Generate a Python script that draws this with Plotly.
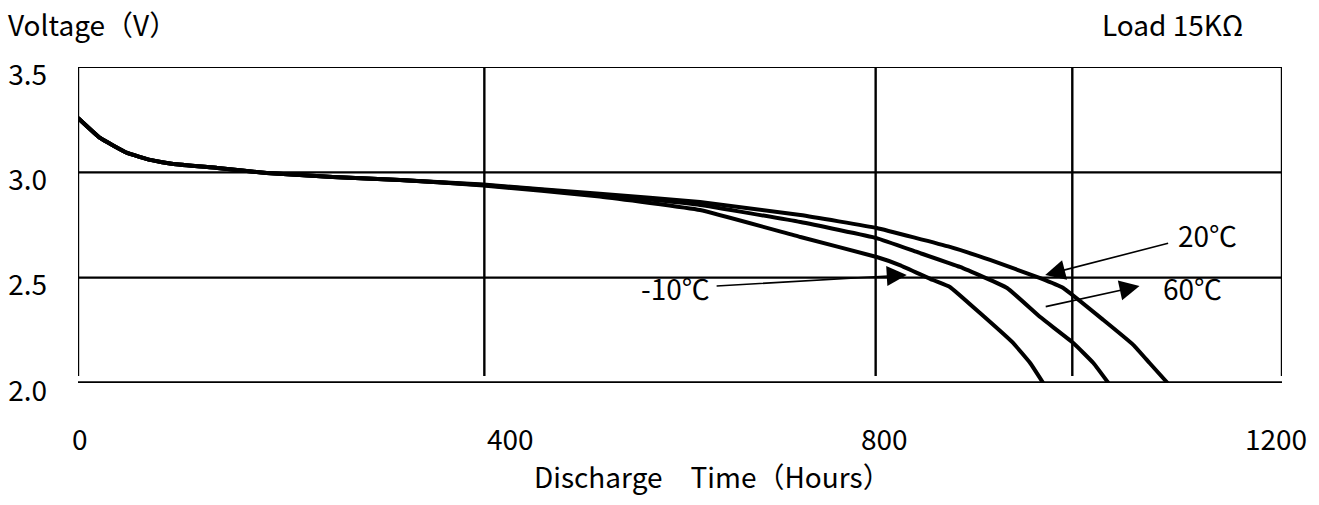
import plotly.graph_objects as go

# ---------------- data ----------------
X_TICKS = [0, 400, 800, 1200]
X_TICK_LABELS = ["0", "400", "800", "1200"]
Y_TICKS = [2.0, 2.5, 3.0, 3.5]
Y_TICK_LABELS = ["2.0", "2.5", "3.0", "3.5"]

SERIES_NAMES = ["20℃", "60℃", "-10℃"]

T_20 = [0, 22, 49, 72, 95, 139, 188, 254, 321, 404, 520, 620, 720, 796, 869, 909, 959, 982, 1022, 1052, 1068, 1086]
V_20 = [3.258, 3.163, 3.092, 3.059, 3.040, 3.021, 2.997, 2.978, 2.964, 2.942, 2.898, 2.859, 2.797, 2.736, 2.646, 2.584, 2.498, 2.451, 2.299, 2.180, 2.095, 2.000]

T_60 = [0, 22, 49, 72, 95, 139, 188, 254, 321, 404, 520, 620, 720, 796, 836, 879, 926, 959, 992, 1012, 1027]
V_60 = [3.258, 3.163, 3.092, 3.059, 3.040, 3.021, 2.997, 2.978, 2.964, 2.940, 2.893, 2.845, 2.764, 2.688, 2.622, 2.551, 2.451, 2.313, 2.190, 2.095, 2.000]

T_M10 = [0, 22, 49, 72, 95, 139, 188, 254, 321, 404, 520, 620, 720, 796, 819, 852, 869, 899, 932, 949, 962]
V_M10 = [3.258, 3.163, 3.092, 3.059, 3.040, 3.021, 2.997, 2.978, 2.964, 2.938, 2.885, 2.821, 2.693, 2.598, 2.560, 2.489, 2.456, 2.332, 2.190, 2.095, 2.000]

# ---------------- style ----------------
FONT = "Noto Sans CJK SC, Lato, sans-serif"
FS = 28
BLACK = "#000000"

fig = go.Figure()
for t, v, name in [(T_20, V_20, SERIES_NAMES[0]), (T_60, V_60, SERIES_NAMES[1]), (T_M10, V_M10, SERIES_NAMES[2])]:
    fig.add_trace(go.Scatter(x=t, y=v, mode="lines", name=name,
                             line=dict(color=BLACK, width=4, shape="spline", smoothing=0.3),
                             showlegend=False, hoverinfo="skip"))

shapes = []
line_bottom = 2.033
# top border
shapes.append(dict(type="line", xref="x", yref="y", x0=0, x1=1200, y0=3.5, y1=3.5,
                   line=dict(color=BLACK, width=2.2)))
# horizontal grid
for yv in [3.0, 2.5]:
    shapes.append(dict(type="line", xref="x", yref="y", x0=0, x1=1200, y0=yv, y1=yv,
                       line=dict(color=BLACK, width=2.2)))
# bottom axis line
shapes.append(dict(type="line", xref="x", yref="y", x0=0, x1=1200, y0=2.0, y1=2.0,
                   line=dict(color=BLACK, width=3.5)))
# vertical lines (left border, grid, right border)
for xv in [0, 405, 795, 991, 1200]:
    shapes.append(dict(type="line", xref="x", yref="y", x0=xv, x1=xv, y0=line_bottom, y1=3.5,
                       line=dict(color=BLACK, width=2.4)))

annotations = []
# x tick labels
x_label_shift = [2, 31, 4, -6]
for val, lab, sh in zip(X_TICKS, X_TICK_LABELS, x_label_shift):
    annotations.append(dict(x=val, y=0, xref="x", yref="paper", text=lab, showarrow=False,
                            xanchor="center", yanchor="middle", xshift=sh, yshift=-55,
                            font=dict(family=FONT, size=FS, color=BLACK)))
# titles
annotations.append(dict(x=-0.0598, y=1.137, xref="paper", yref="paper", text="Voltage（V）",
                        showarrow=False, xanchor="left", yanchor="middle",
                        font=dict(family=FONT, size=FS, color=BLACK)))
annotations.append(dict(x=0.849, y=1.137, xref="paper", yref="paper", text="Load 15KΩ",
                        showarrow=False, xanchor="left", yanchor="middle",
                        font=dict(family=FONT, size=FS, color=BLACK)))
annotations.append(dict(x=0.5266, y=-0.294, xref="paper", yref="paper", text="Discharge　Time（Hours）",
                        showarrow=False, xanchor="center", yanchor="middle",
                        font=dict(family=FONT, size=FS, color=BLACK)))

# curve labels
label_pos = {"-10℃": (596, 2.451), "20℃": (1126, 2.703), "60℃": (1111, 2.451)}
for name, (lx, ly) in label_pos.items():
    annotations.append(dict(x=lx, y=ly, xref="x", yref="y", text=name, showarrow=False,
                            xanchor="center", yanchor="middle",
                            font=dict(family=FONT, size=FS, color=BLACK)))

# arrows: (head_x, head_y, tail_x, tail_y)
arrows = [(826, 2.513, 635, 2.460), (964, 2.513, 1088, 2.665), (1058, 2.460, 963, 2.361)]
for hx, hy, tx, ty in arrows:
    annotations.append(dict(x=hx, y=hy, ax=tx, ay=ty, xref="x", yref="y", axref="x", ayref="y",
                            text="", showarrow=True, arrowhead=2, arrowsize=2.5, arrowwidth=1.6,
                            arrowcolor=BLACK, standoff=0, startstandoff=0))

fig.update_layout(
    width=1319, height=505,
    margin=dict(l=78, r=37, t=67, b=122, autoexpand=False),
    paper_bgcolor="white", plot_bgcolor="white",
    shapes=shapes, annotations=annotations,
    xaxis=dict(range=[0, 1200], showgrid=False, zeroline=False, showline=False,
               showticklabels=False, ticks="", automargin=False),
    yaxis=dict(range=[2.0, 3.5], showgrid=False, zeroline=False, showline=False,
               tickvals=Y_TICKS, ticktext=Y_TICK_LABELS, ticks="", automargin=False,
               ticklabelshift=8, ticklabelstandoff=30,
               tickfont=dict(family=FONT, size=FS, color=BLACK)),
)

fig.write_html("out.html",
               config={"displayModeBar": False},
               post_script="document.body.style.margin='0';document.body.style.overflow='hidden';")
